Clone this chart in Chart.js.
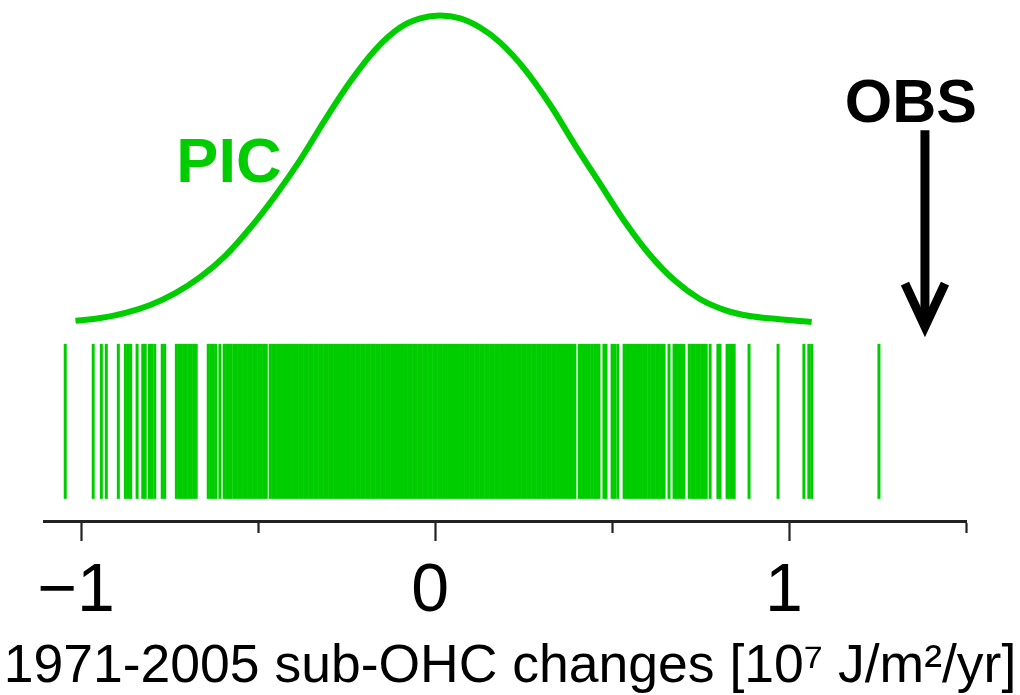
<!DOCTYPE html>
<html><head><meta charset="utf-8">
<script src="https://cdn.jsdelivr.net/npm/chart.js@4.4.1/dist/chart.umd.min.js"></script>
<style>html,body{margin:0;padding:0;background:#fff;}#wrap{width:1020px;height:695px;}</style>
</head><body><div id="wrap"><canvas id="c" width="1020" height="695"></canvas></div>
<script>
// PIC density curve
const curveX = [-1.016,-0.946,-0.875,-0.805,-0.734,-0.663,-0.593,-0.522,-0.452,-0.381,-0.311,-0.240,-0.169,-0.099,-0.042,0.014,0.071,0.127,0.184,0.254,0.325,0.395,0.466,0.536,0.607,0.678,0.748,0.819,0.889,0.960,1.064];
const curveY = [0.025,0.035,0.053,0.081,0.123,0.180,0.254,0.353,0.465,0.592,0.733,0.867,0.980,1.058,1.090,1.100,1.090,1.058,1.005,0.910,0.786,0.645,0.508,0.374,0.257,0.166,0.102,0.063,0.042,0.032,0.021];
// PIC samples (rug)
const rugValues = [-1.045,-0.966,-0.943,-0.929,-0.895,-0.875,-0.867,-0.860,-0.842,-0.826,-0.819,-0.807,-0.800,-0.792,-0.771,-0.764,
-0.731,-0.724,-0.717,-0.710,-0.703,-0.696,-0.689,-0.682,-0.675,-0.641,-0.634,-0.627,-0.620,-0.608,-0.596,-0.589,-0.582,-0.577,
-0.569,-0.562,-0.555,-0.548,-0.541,-0.534,-0.527,-0.519,-0.512,-0.505,-0.498,-0.491,-0.484,-0.477,
-0.466,-0.459,-0.452,-0.445,-0.438,-0.431,-0.424,-0.417,-0.410,-0.403,-0.396,-0.389,-0.382,-0.375,-0.368,-0.361,-0.354,-0.347,-0.340,-0.333,
-0.326,-0.319,-0.312,-0.305,-0.298,-0.291,-0.284,-0.277,-0.270,-0.263,-0.256,-0.249,-0.242,-0.235,-0.228,-0.221,-0.214,-0.207,-0.200,-0.193,
-0.186,-0.179,-0.172,-0.165,-0.158,-0.151,-0.144,-0.137,-0.130,-0.123,-0.116,-0.109,-0.102,-0.095,-0.088,-0.081,-0.074,-0.067,-0.060,-0.053,
-0.046,-0.039,-0.032,-0.025,-0.018,-0.011,-0.004,0.003,0.010,0.017,0.024,0.031,0.038,0.045,0.052,0.059,0.066,0.073,0.080,0.087,
0.094,0.101,0.108,0.115,0.122,0.129,0.136,0.143,0.150,0.157,0.164,0.171,0.178,0.185,0.192,0.199,0.206,0.213,0.220,0.227,
0.234,0.241,0.248,0.255,0.262,0.269,0.276,0.283,0.290,0.297,0.304,0.311,0.318,0.325,0.332,0.339,0.346,0.353,0.360,0.367,
0.374,0.381,0.388,0.395,
0.408,0.415,0.422,0.429,0.436,0.444,0.451,0.458,0.463,0.477,0.483,0.500,0.507,0.516,
0.534,0.541,0.548,0.555,0.562,0.569,0.576,0.583,0.590,0.597,0.605,0.612,0.619,0.626,0.633,0.640,0.647,
0.661,0.675,0.682,0.689,0.696,0.703,0.718,0.725,0.732,0.739,0.746,0.753,0.760,0.766,0.777,0.799,0.805,
0.825,0.832,0.839,0.845,0.887,0.969,1.042,1.056,1.064,1.254];
const xTicks = [-1,-0.5,0,0.5,1,1.5];
const xTickLabels = ['\u22121','','0','','1',''];
const obsValue = 1.384;
const arrowTop = 0.696, arrowTip = -0.034;
const rugLevel = -0.329;
const picLabel = {text:'PIC', x:-0.731, y:0.513};
const obsLabel = {text:'OBS', x:1.1575, y:0.7245};
const xTitle = '1971-2005 sub-OHC changes [10\u2077 J/m\u00b2/yr]';

const GREEN = '#00CD00';
const FONT = "'Liberation Sans', Arial, Helvetica, sans-serif";

const overlay = {
  id:'overlay',
  afterDatasetsDraw(chart){
    const ctx = chart.ctx, xs = chart.scales.x, ys = chart.scales.y;
    ctx.save();
    ctx.textBaseline = 'alphabetic'; ctx.textAlign = 'left';
    ctx.font = 'bold 63px ' + FONT;
    ctx.fillStyle = GREEN;
    ctx.fillText(picLabel.text, xs.getPixelForValue(picLabel.x), ys.getPixelForValue(picLabel.y));
    ctx.font = 'bold 61px ' + FONT;
    ctx.fillStyle = '#000';
    ctx.fillText(obsLabel.text, xs.getPixelForValue(obsLabel.x), ys.getPixelForValue(obsLabel.y));
    // axis title (below tick labels, centred on the page)
    ctx.font = '53.5px ' + FONT;
    ctx.textAlign = 'center';
    ctx.fillText(xTitle, chart.width / 2, chart.height - 13);
    // arrow
    const ax = xs.getPixelForValue(obsValue);
    const ay0 = ys.getPixelForValue(arrowTop), ay1 = ys.getPixelForValue(arrowTip);
    ctx.strokeStyle = '#000'; ctx.lineWidth = 9; ctx.lineCap = 'butt';
    ctx.beginPath(); ctx.moveTo(ax, ay0); ctx.lineTo(ax, ay1 - 14); ctx.stroke();
    ctx.lineJoin = 'miter'; ctx.miterLimit = 10;
    ctx.beginPath(); ctx.moveTo(ax - 20, ay1 - 54); ctx.lineTo(ax, ay1 - 11); ctx.lineTo(ax + 20, ay1 - 54); ctx.stroke();
    ctx.restore();
  }
};

new Chart(document.getElementById('c'), {
  type: 'scatter',
  data: {
    datasets: [
      { data: curveX.map((x,i)=>({x, y: curveY[i]})), showLine:true, borderColor:GREEN, borderWidth:6,
        pointRadius:0, cubicInterpolationMode:'monotone', fill:false },
      { data: rugValues.map(v=>({x:v, y:rugLevel})), showLine:false, pointStyle:'line', pointRotation:90,
        pointRadius:77.5, pointHoverRadius:77.5, pointBorderWidth:3, pointBorderColor:GREEN, pointBackgroundColor:GREEN }
    ]
  },
  options: {
    responsive:false, animation:false, devicePixelRatio:1,
    layout:{ autoPadding:false, padding:{ left:44, right:54, top:0, bottom:52 } },
    plugins:{ legend:{display:false}, tooltip:{enabled:false} },
    scales:{
      x:{ type:'linear', min:-1.105, max:1.5,
        afterBuildTicks: s => { s.ticks = xTicks.map(v=>({value:v})); },
        grid:{ display:true, drawOnChartArea:false, drawTicks:true, tickLength:20, tickWidth:2.2, tickColor:'#222',
          tickBorderDash: c => (c.tick && Math.abs(c.tick.value % 1) > 0.01) ? [10, 40] : [] },
        border:{ display:true, color:'#222', width:3 },
        ticks:{ padding:17, color:'#000', labelOffset:-5, maxRotation:0, autoSkip:false,
          font:{ family:FONT, size:68, lineHeight:1 },
          callback: (v, i) => { const k = xTicks.indexOf(v); return k >= 0 ? xTickLabels[k] : ''; } },
        title:{ display:false }
      },
      y:{ type:'linear', display:false, min:-0.68, max:1.155 }
    }
  },
  plugins:[overlay]
});
</script></body></html>
